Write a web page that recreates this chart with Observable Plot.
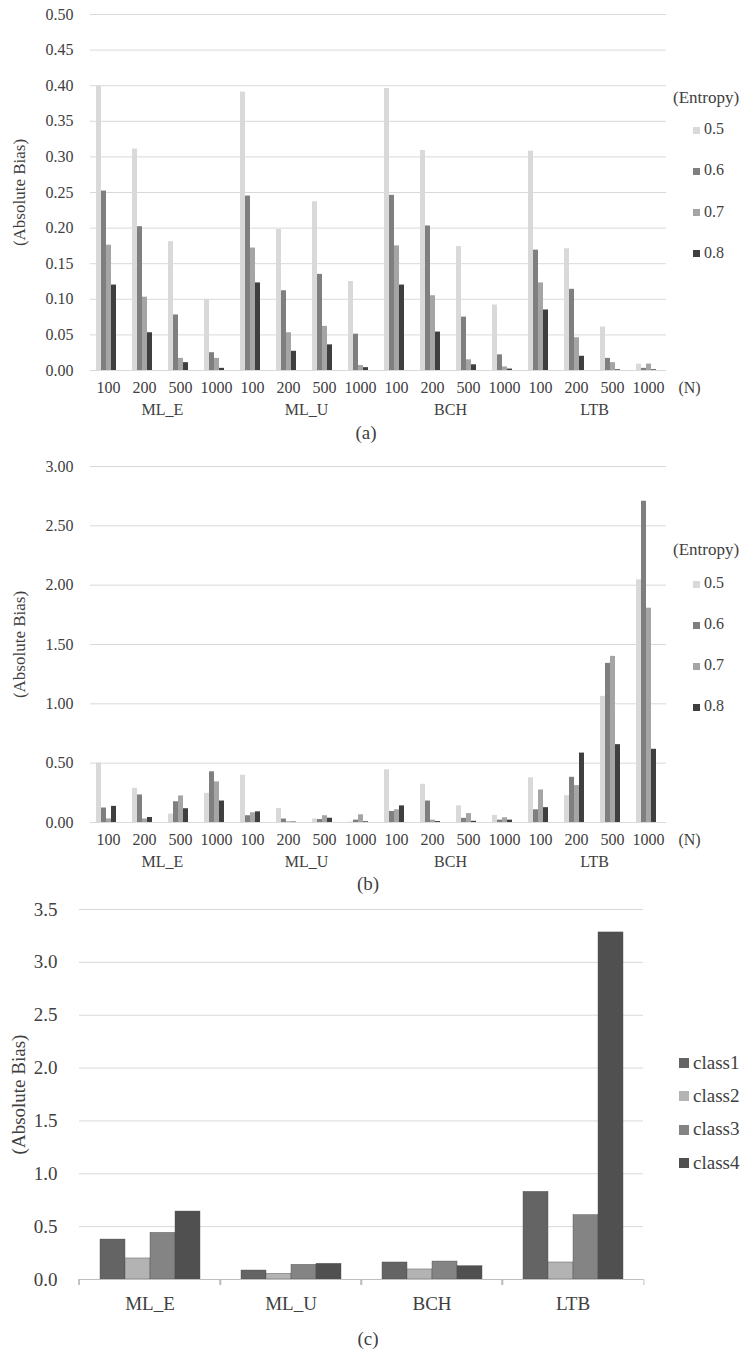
<!DOCTYPE html>
<html>
<head>
<meta charset="utf-8">
<script src="https://cdn.jsdelivr.net/npm/d3@7"></script>
<script src="https://cdn.jsdelivr.net/npm/@observablehq/plot@0.6"></script>
<style>
  html, body { margin: 0; padding: 0; background: #fff; }
  #page { position: relative; width: 745px; height: 1356px; overflow: hidden; font-family: "Liberation Serif", "Times New Roman", Tinos, "DejaVu Serif", serif; color: #404040; }
  #page svg, #page svg text { font-family: "Liberation Serif", "Times New Roman", Tinos, "DejaVu Serif", serif !important; }
  .chart { position: absolute; left: 0; }
  .abs { position: absolute; white-space: nowrap; line-height: 1; }
  .cap { transform: translate(-50%, -50%); font-size: 19px; }
  .sw { position: absolute; }
</style>
</head>
<body>
<div id="page"></div>
<script>
// ---------- data ----------
const methods = ["ML_E", "ML_U", "BCH", "LTB"];
const sampleSizes = ["100", "200", "500", "1000"];
const entropyLevels = ["0.5", "0.6", "0.7", "0.8"];
const classes = ["class1", "class2", "class3", "class4"];

// panel (a): order ML_E 100,200,500,1000 | ML_U ... | BCH ... | LTB ...
const biasA_05 = [0.399, 0.311, 0.181, 0.100, 0.391, 0.198, 0.237, 0.125, 0.396, 0.309, 0.174, 0.092, 0.308, 0.171, 0.061, 0.009];
const biasA_06 = [0.252, 0.202, 0.078, 0.025, 0.245, 0.112, 0.135, 0.051, 0.246, 0.203, 0.075, 0.022, 0.169, 0.114, 0.017, 0.003];
const biasA_07 = [0.176, 0.103, 0.017, 0.017, 0.172, 0.053, 0.062, 0.007, 0.175, 0.105, 0.015, 0.005, 0.123, 0.046, 0.011, 0.009];
const biasA_08 = [0.120, 0.053, 0.011, 0.003, 0.123, 0.027, 0.036, 0.004, 0.120, 0.054, 0.008, 0.002, 0.085, 0.020, 0.001, 0.001];

// panel (b)
const biasB_05 = [0.500, 0.288, 0.071, 0.246, 0.398, 0.119, 0.030, 0.003, 0.444, 0.322, 0.140, 0.060, 0.376, 0.226, 1.063, 2.045];
const biasB_06 = [0.122, 0.232, 0.175, 0.427, 0.057, 0.029, 0.025, 0.020, 0.093, 0.181, 0.035, 0.020, 0.107, 0.381, 1.341, 2.707];
const biasB_07 = [0.030, 0.030, 0.224, 0.342, 0.082, 0.006, 0.057, 0.065, 0.107, 0.020, 0.075, 0.040, 0.274, 0.311, 1.400, 1.806];
const biasB_08 = [0.136, 0.042, 0.116, 0.181, 0.090, 0.004, 0.036, 0.006, 0.140, 0.008, 0.010, 0.020, 0.125, 0.585, 0.656, 0.617];

// panel (c): per method ML_E, ML_U, BCH, LTB
const class1 = [0.378, 0.085, 0.161, 0.829];
const class2 = [0.199, 0.054, 0.095, 0.161];
const class3 = [0.441, 0.139, 0.170, 0.609];
const class4 = [0.643, 0.148, 0.126, 3.283];

const ticksA = [0, 0.05, 0.10, 0.15, 0.20, 0.25, 0.30, 0.35, 0.40, 0.45, 0.50];
const ticksB = [0, 0.5, 1.0, 1.5, 2.0, 2.5, 3.0];
const ticksC = [0, 0.5, 1.0, 1.5, 2.0, 2.5, 3.0, 3.5];

const entropyColors = ["#d9d9d9", "#7f7f7f", "#a5a5a5", "#3f3f3f"];
const classColors = ["#646464", "#b3b3b3", "#848484", "#505050"];

// ---------- build ----------
const keys = methods.flatMap(m => sampleSizes.map(n => m + "|" + n));

function buildRows(series) {
  const rows = [];
  methods.forEach((m, i) => sampleSizes.forEach((n, j) => entropyLevels.forEach((e, k) => {
    rows.push({key: m + "|" + n, method: m, N: n, entropy: e, value: series[k][i * 4 + j]});
  })));
  return rows;
}

const fontFamily = "'Liberation Serif', 'Times New Roman', Tinos, 'DejaVu Serif', serif";
const page = document.getElementById("page");

function entropyChart(rows, yTicks, yMax, height, marginBottom) {
  return Plot.plot({
    width: 745, height,
    marginTop: 14, marginLeft: 86, marginRight: 75, marginBottom,
    style: {fontFamily, fontSize: "16px", color: "#404040", background: "transparent", overflow: "visible"},
    fx: {domain: keys, padding: 0, axis: null},
    x: {domain: entropyLevels, axis: null, paddingInner: 0.1, paddingOuter: 1.28, align: 0.35},
    y: {domain: [0, yMax], axis: null},
    color: {domain: entropyLevels, range: entropyColors},
    marks: [
      Plot.gridY(yTicks, {stroke: "#d9d9d9", strokeOpacity: 1}),
      Plot.axisY(yTicks, {tickSize: 0, tickPadding: 17, tickFormat: d3.format(".2f"), label: null, fontSize: 16}),
      Plot.barY(rows, {fx: "key", x: "entropy", y: "value", fill: "entropy"}),
      Plot.text(keys, {fx: d => d, text: d => d.split("|")[1], frameAnchor: "bottom", dy: 17, lineAnchor: "middle", fontSize: 16}),
      Plot.text(methods, {fx: m => m + "|200", text: m => m, frameAnchor: "bottom-right", textAnchor: "middle", dy: 39, lineAnchor: "middle", fontSize: 16}),
      Plot.text(["(N)"], {fx: () => "LTB|1000", text: d => d, frameAnchor: "bottom-right", textAnchor: "middle", dx: 23, dy: 17, lineAnchor: "middle", fontSize: 16}),
      Plot.text(["(Absolute Bias)"], {fx: () => "ML_E|100", text: d => d, frameAnchor: "left", rotate: -90, dx: -71, textAnchor: "middle", lineAnchor: "middle", fontSize: 17})
    ]
  });
}

function place(el, top) {
  el.classList.add("chart");
  el.style.top = top + "px";
  page.appendChild(el);
}

place(entropyChart(buildRows([biasA_05, biasA_06, biasA_07, biasA_08]), ticksA, 0.5, 420, 50), 0);
place(entropyChart(buildRows([biasB_05, biasB_06, biasB_07, biasB_08]), ticksB, 3.0, 428, 58), 452);

// panel (c)
const seriesC = [class1, class2, class3, class4];
const rowsC = [];
methods.forEach((m, i) => classes.forEach((c, k) => rowsC.push({method: m, cls: c, value: seriesC[k][i]})));
const stepC = (745 - 77 - 101) / methods.length;

const chartC = Plot.plot({
  width: 745, height: 425,
  marginTop: 14, marginLeft: 77, marginRight: 101, marginBottom: 41,
  style: {fontFamily, fontSize: "19px", color: "#404040", background: "transparent", overflow: "visible"},
  fx: {domain: methods, padding: 0, axis: null},
  x: {domain: classes, axis: null, paddingInner: 0, paddingOuter: 0.76},
  y: {domain: [0, 3.5], axis: null},
  color: {domain: classes, range: classColors},
  marks: [
    Plot.gridY(ticksC, {stroke: "#d9d9d9", strokeOpacity: 1}),
    Plot.axisY(ticksC, {tickSize: 0, tickPadding: 22, tickFormat: d3.format(".1f"), label: null, fontSize: 19}),
    Plot.barY(rowsC, {fx: "method", x: "cls", y: "value", fill: "cls", stroke: "#4a4a4a", strokeWidth: 0.4}),
    Plot.ruleY([0], {stroke: "#bfbfbf", strokeWidth: 1}),
    Plot.axisFx(methods, {anchor: "bottom", tickSize: 6, dx: -stepC / 2, tickFormat: () => "", stroke: "#bfbfbf", label: null}),
    Plot.axisFx([methods[methods.length - 1]], {anchor: "bottom", tickSize: 6, dx: stepC / 2, tickFormat: () => "", stroke: "#bfbfbf", label: null}),
    Plot.text(methods, {fx: d => d, text: d => d, frameAnchor: "bottom", dy: 24, lineAnchor: "middle", fontSize: 19}),
    Plot.text(["(Absolute Bias)"], {fx: () => "ML_E", text: d => d, frameAnchor: "left", rotate: -90, dx: -61, textAnchor: "middle", lineAnchor: "middle", fontSize: 19})
  ]
});
place(chartC, 895);

// ---------- captions ----------
function caption(text, x, y) {
  const d = document.createElement("div");
  d.className = "abs cap";
  d.style.left = x + "px";
  d.style.top = y + "px";
  d.textContent = text;
  page.appendChild(d);
}
caption("(a)", 366, 432);
caption("(b)", 368, 883);
caption("(c)", 368, 1338);

// ---------- legends ----------
function legend({title, titleX, titleY, labels, colors, swX, sw, textX, y0, dy, fontSize}) {
  if (title) {
    const t = document.createElement("div");
    t.className = "abs";
    t.style.left = titleX + "px";
    t.style.top = (titleY - fontSize / 2) + "px";
    t.style.fontSize = (fontSize + 1) + "px";
    t.textContent = title;
    page.appendChild(t);
  }
  labels.forEach((lab, i) => {
    const cy = y0 + i * dy;
    const s = document.createElement("div");
    s.className = "sw";
    s.style.left = swX + "px";
    s.style.top = (cy - sw / 2 + 1) + "px";
    s.style.width = sw + "px";
    s.style.height = sw + "px";
    s.style.background = colors[i];
    page.appendChild(s);
    const t = document.createElement("div");
    t.className = "abs";
    t.style.left = textX + "px";
    t.style.top = (cy - fontSize / 2) + "px";
    t.style.fontSize = fontSize + "px";
    t.textContent = lab;
    page.appendChild(t);
  });
}
legend({title: "(Entropy)", titleX: 673, titleY: 97, labels: entropyLevels, colors: entropyColors, swX: 693, sw: 7, textX: 704, y0: 129, dy: 41.3, fontSize: 16});
legend({title: "(Entropy)", titleX: 673, titleY: 549, labels: entropyLevels, colors: entropyColors, swX: 693, sw: 7, textX: 704, y0: 583, dy: 41, fontSize: 16});
legend({title: null, labels: classes, colors: classColors, swX: 679, sw: 10, textX: 693, y0: 1062, dy: 33.4, fontSize: 19});
</script>
</body>
</html>
